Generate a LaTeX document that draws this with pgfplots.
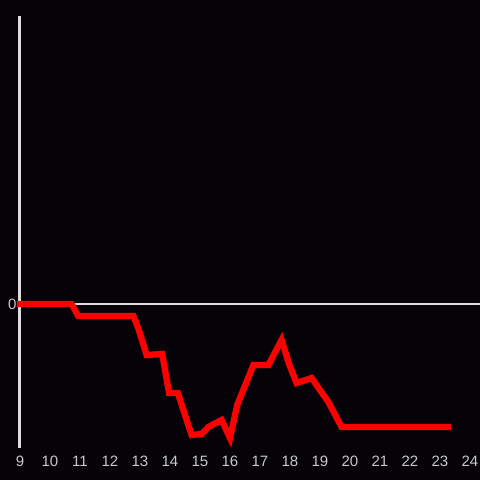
\documentclass[border=0pt]{standalone}
\usepackage{pgfplots}
\pgfplotsset{compat=1.18}
\usepackage{fontspec}
\setmainfont{Liberation Sans}
\definecolor{bg}{RGB}{5,3,7}
\definecolor{axgray}{RGB}{221,221,221}
\definecolor{lblgray}{RGB}{200,200,200}
\definecolor{linered}{RGB}{255,0,0}
\begin{document}
\begin{tikzpicture}[x=1pt,y=1pt]
\useasboundingbox (0,0) rectangle (480,480);
\fill[bg] (0,0) rectangle (480,480);
\begin{axis}[
  at={(20pt,32pt)}, anchor=south west,
  scale only axis, width=460pt, height=432pt,
  xmin=9, xmax=24.3333, ymin=-144, ymax=288,
  axis x line*=bottom,
  x axis line style={draw=none},
  axis y line*=left,
  y axis line style={draw=axgray, line width=3pt, -},
  xtick={9,...,24}, ytick={0},
  major tick length=0pt,
  ymajorgrids, grid style={draw=axgray, line width=2.6pt},
  /pgf/number format/assume math mode=true,
  tick label style={font=\fontsize{15}{17}\selectfont, text=lblgray},
  xticklabel style={anchor=north, text height=11pt, text depth=0pt, yshift=-4pt},
  clip=false,
]
\addplot[linered, line width=6.3pt, line join=miter, line cap=rect] coordinates {
(9,0) (10.72,0) (10.94,-12) (12.78,-12) (12.94,-24) (13.22,-51) (13.74,-50)
(13.97,-89) (14.26,-89) (14.72,-131) (15.06,-130) (15.28,-123) (15.72,-116)
(16.0,-134) (16.24,-101) (16.78,-61) (17.28,-61) (17.72,-36) (17.98,-61)
(18.22,-79) (18.72,-74) (19.28,-98) (19.72,-123) (23.26,-123)
};
\end{axis}
\end{tikzpicture}
\end{document}
